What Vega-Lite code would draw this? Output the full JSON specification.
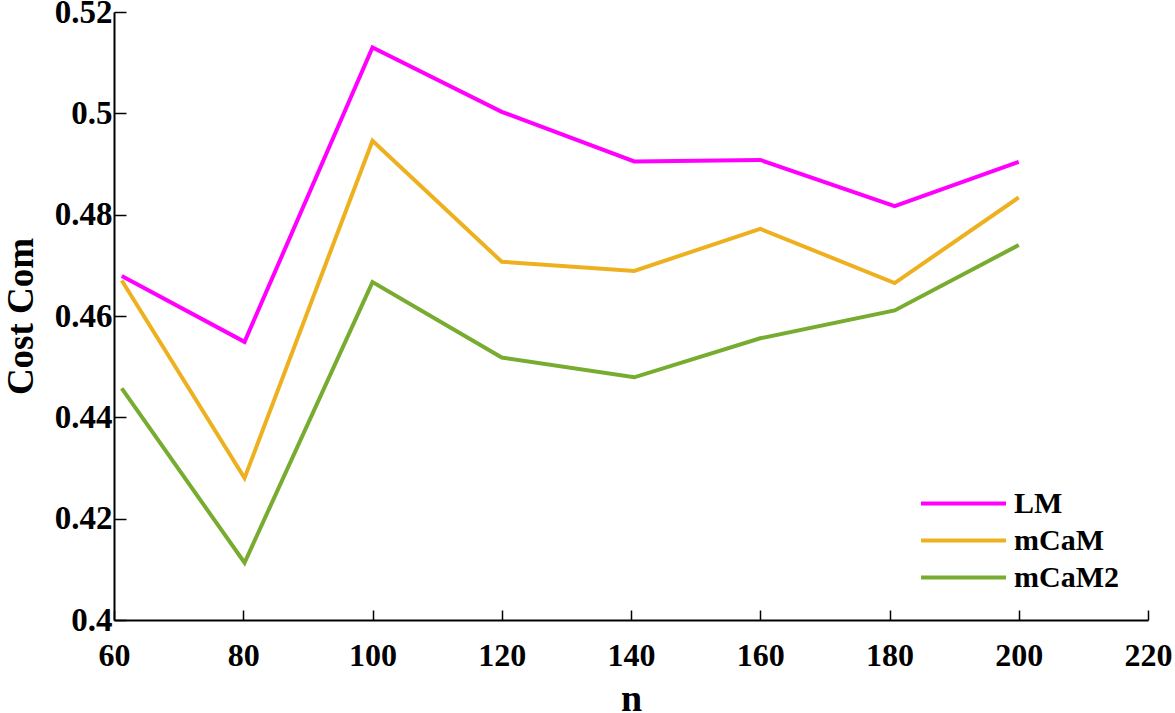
{
  "$schema": "https://vega.github.io/schema/vega-lite/v6.json",
  "autosize": {"type": "none"},
  "padding": {"left": 114, "top": 12, "right": 27, "bottom": 93},
  "width": 1034,
  "height": 608,
  "background": "white",
  "config": {
    "view": {"stroke": null},
    "font": "Liberation Serif"
  },
  "data": {
    "values": [
      {"n": 61.2, "v": 0.4679, "s": "LM"},
      {"n": 80.2, "v": 0.4549, "s": "LM"},
      {"n": 100, "v": 0.5130, "s": "LM"},
      {"n": 120, "v": 0.5003, "s": "LM"},
      {"n": 140.5, "v": 0.4905, "s": "LM"},
      {"n": 160, "v": 0.4908, "s": "LM"},
      {"n": 180.8, "v": 0.4817, "s": "LM"},
      {"n": 200, "v": 0.4904, "s": "LM"},
      {"n": 61.2, "v": 0.4670, "s": "mCaM"},
      {"n": 80.2, "v": 0.4280, "s": "mCaM"},
      {"n": 100, "v": 0.4946, "s": "mCaM"},
      {"n": 120, "v": 0.4707, "s": "mCaM"},
      {"n": 140.5, "v": 0.4689, "s": "mCaM"},
      {"n": 160, "v": 0.4772, "s": "mCaM"},
      {"n": 180.8, "v": 0.4665, "s": "mCaM"},
      {"n": 200, "v": 0.4834, "s": "mCaM"},
      {"n": 61.2, "v": 0.4457, "s": "mCaM2"},
      {"n": 80.2, "v": 0.4113, "s": "mCaM2"},
      {"n": 100, "v": 0.4667, "s": "mCaM2"},
      {"n": 120, "v": 0.4518, "s": "mCaM2"},
      {"n": 140.5, "v": 0.4479, "s": "mCaM2"},
      {"n": 160, "v": 0.4556, "s": "mCaM2"},
      {"n": 180.8, "v": 0.4611, "s": "mCaM2"},
      {"n": 200, "v": 0.4740, "s": "mCaM2"}
    ]
  },
  "mark": {"type": "line", "strokeWidth": 4, "strokeJoin": "miter", "clip": true},
  "encoding": {
    "x": {
      "field": "n", "type": "quantitative",
      "scale": {"domain": [60, 220], "nice": false, "zero": false},
      "axis": {
        "title": "n",
        "values": [60, 80, 100, 120, 140, 160, 180, 200, 220],
        "grid": false,
        "domainColor": "black", "domainWidth": 2,
        "tickColor": "black", "tickWidth": 1.5, "tickSize": -10,
        "labelFont": "Liberation Serif", "labelFontWeight": "bold", "labelFontSize": 32, "labelColor": "black",
        "labelPadding": 30, "labelFlush": false,
        "titleFont": "Liberation Serif", "titleFontWeight": "bold", "titleFontSize": 38, "titleColor": "black",
        "titlePadding": 9
      }
    },
    "y": {
      "field": "v", "type": "quantitative",
      "scale": {"domain": [0.4, 0.52], "nice": false, "zero": false},
      "axis": {
        "title": "Cost Com",
        "values": [0.4, 0.42, 0.44, 0.46, 0.48, 0.5, 0.52],
        "format": "~g",
        "grid": false,
        "domainColor": "black", "domainWidth": 2,
        "tickColor": "black", "tickWidth": 1.5, "tickSize": -12,
        "labelFont": "Liberation Serif", "labelFontWeight": "bold", "labelFontSize": 33, "labelColor": "black",
        "labelPadding": 14, "labelFlush": false,
        "titleFont": "Liberation Serif", "titleFontWeight": "bold", "titleFontSize": 37, "titleColor": "black",
        "titlePadding": 14
      }
    },
    "color": {
      "field": "s", "type": "nominal",
      "scale": {"domain": ["LM", "mCaM", "mCaM2"], "range": ["#FF00FF", "#EDB120", "#77AC30"]},
      "legend": {
        "title": null,
        "orient": "none",
        "legendX": 833,
        "legendY": 475,
        "padding": 0,
        "symbolType": "M-3,0H3",
        "symbolSize": 803,
        "symbolStrokeWidth": 4,
        "symbolFillColor": "transparent",
        "labelFont": "Liberation Serif", "labelFontWeight": "bold", "labelFontSize": 30, "labelColor": "black",
        "rowPadding": 5,
        "labelOffset": 34
      }
    }
  }
}
